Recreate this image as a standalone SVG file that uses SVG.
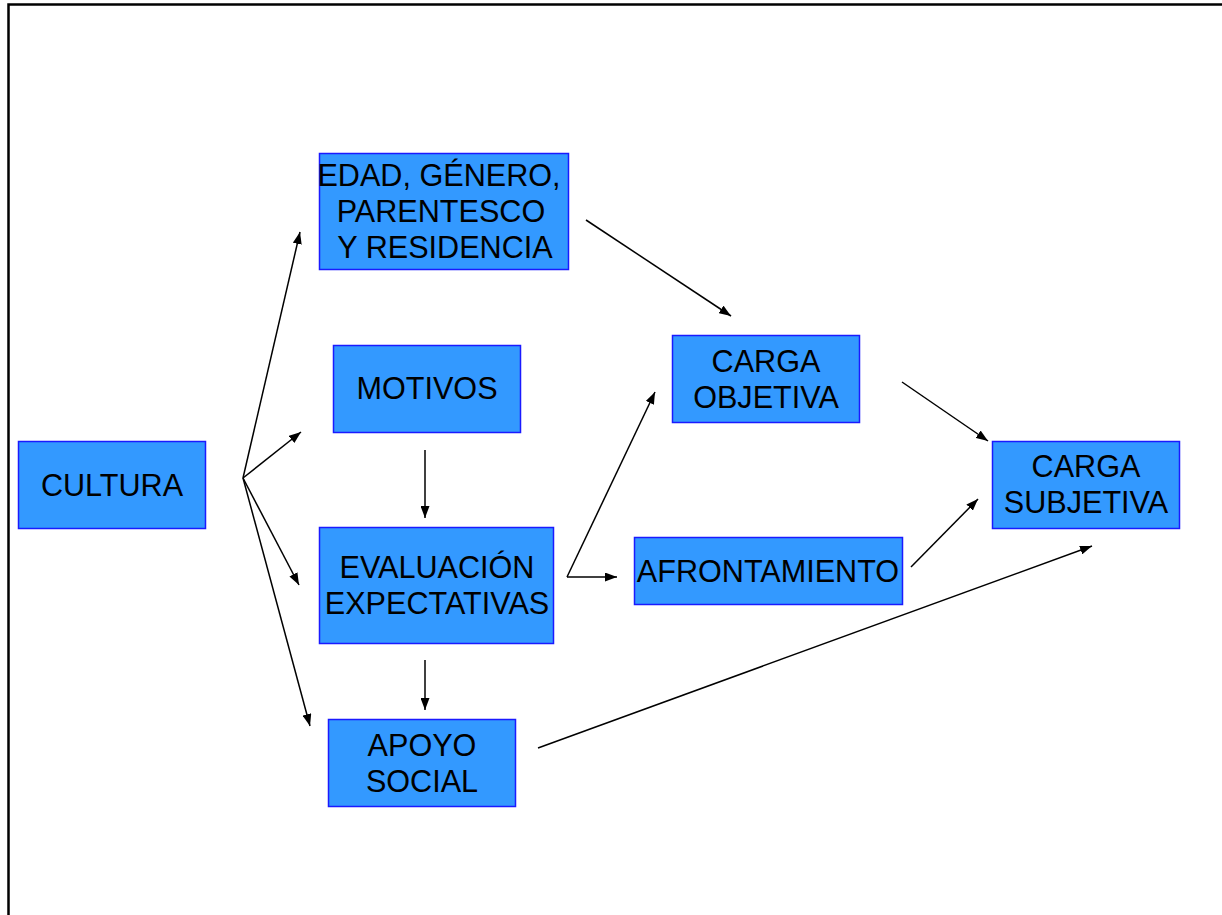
<svg xmlns="http://www.w3.org/2000/svg" width="1222" height="915" viewBox="0 0 1222 915">
  <style>
    .box { fill: #3399ff; stroke: #1a1aff; stroke-width: 1.5; }
    .lbl { font-family: "Liberation Sans", Arial, sans-serif; font-size: 30.6px; fill: #000; text-anchor: middle; }
    .edge { stroke: #000; stroke-width: 1.5; fill: none; marker-end: url(#arrow); }
    .frame { stroke: #000; stroke-width: 2.5; fill: none; }
  </style>
  <defs>
    <marker id="arrow" viewBox="0 0 12 9" refX="12" refY="4.5" markerWidth="12" markerHeight="9" markerUnits="userSpaceOnUse" orient="auto">
      <path d="M0,0 L12,4.5 L0,9 Z" fill="#000"/>
    </marker>
  </defs>
  <rect width="1222" height="915" fill="#fff"/>
  <path class="frame" d="M8.5,915 L8.5,4.5 L1222,4.5"/>

  <g id="connectors">
    <line class="edge" x1="243" y1="478" x2="300" y2="232"/>
    <line class="edge" x1="243" y1="478" x2="301" y2="432"/>
    <line class="edge" x1="243" y1="478" x2="299" y2="585"/>
    <line class="edge" x1="243" y1="478" x2="310" y2="726"/>
    <line class="edge" x1="425" y1="450" x2="425" y2="518"/>
    <line class="edge" x1="425" y1="660" x2="425" y2="710"/>
    <line class="edge" x1="567" y1="577" x2="655" y2="392"/>
    <line class="edge" x1="567" y1="577" x2="617" y2="577"/>
    <line class="edge" x1="586" y1="220" x2="731" y2="316"/>
    <line class="edge" x1="902" y1="382" x2="988" y2="441"/>
    <line class="edge" x1="911" y1="567" x2="978" y2="499"/>
    <line class="edge" x1="538" y1="748" x2="1092" y2="546"/>
  </g>

  <g id="cultura">
    <rect class="box" x="18.5" y="441.5" width="187" height="87"/>
    <text class="lbl" x="112" y="496">CULTURA</text>
  </g>
  <g id="edad">
    <rect class="box" x="319.5" y="153.5" width="249" height="116"/>
    <text class="lbl" x="439" y="186">EDAD, GÉNERO,</text>
    <text class="lbl" x="441" y="222">PARENTESCO</text>
    <text class="lbl" x="445" y="258">Y RESIDENCIA</text>
  </g>
  <g id="motivos">
    <rect class="box" x="333.5" y="345.5" width="187" height="87"/>
    <text class="lbl" x="427" y="399">MOTIVOS</text>
  </g>
  <g id="evaluacion">
    <rect class="box" x="319.5" y="527.5" width="234" height="116"/>
    <text class="lbl" x="437" y="578">EVALUACIÓN</text>
    <text class="lbl" x="437" y="614">EXPECTATIVAS</text>
  </g>
  <g id="apoyo">
    <rect class="box" x="328.5" y="719.5" width="187" height="87"/>
    <text class="lbl" x="422" y="756">APOYO</text>
    <text class="lbl" x="422" y="792">SOCIAL</text>
  </g>
  <g id="carga-objetiva">
    <rect class="box" x="672.5" y="335.5" width="187" height="87"/>
    <text class="lbl" x="766" y="372">CARGA</text>
    <text class="lbl" x="766" y="408">OBJETIVA</text>
  </g>
  <g id="afrontamiento">
    <rect class="box" x="634.5" y="537.5" width="268" height="67"/>
    <text class="lbl" x="768" y="582">AFRONTAMIENTO</text>
  </g>
  <g id="carga-subjetiva">
    <rect class="box" x="992.5" y="441.5" width="187" height="87"/>
    <text class="lbl" x="1086" y="477">CARGA</text>
    <text class="lbl" x="1086" y="513">SUBJETIVA</text>
  </g>
</svg>
